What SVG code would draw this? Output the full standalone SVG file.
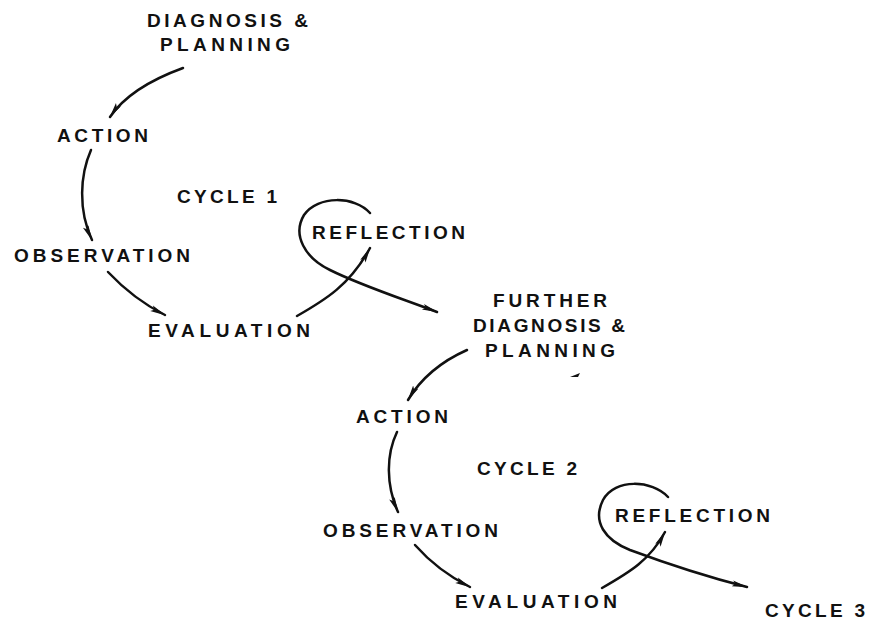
<svg xmlns="http://www.w3.org/2000/svg" width="869" height="622" viewBox="0 0 869 622">
<defs>
<style>
.t{font-family:"Liberation Sans",Arial,sans-serif;font-weight:bold;font-size:19px;fill:#111}
.c{fill:none;stroke:#111;stroke-width:2.5;stroke-linecap:round}
.a{marker-end:url(#ah)}
</style>
<marker id="ah" markerUnits="userSpaceOnUse" markerWidth="18" markerHeight="10" refX="15" refY="5" orient="auto">
<path d="M0,2 L16,5 L0,8 L3,5 z" fill="#111"/>
</marker>
</defs>
<rect width="869" height="622" fill="#fff"/>
<g id="connectors">
<path class="c a" d="M183,68 C150,80 125,95 110,117"/>
<path class="c a" d="M91,150 C80,175 78,210 92,240"/>
<path class="c a" d="M108,272 C125,290 145,305 165,315"/>
<path class="c a" d="M297,316 C325,300 350,285 370,248"/>
<path class="c a" d="M370,213 C355,196 318,195 304,215 C292,235 305,258 330,270 C360,285 400,298 437,312"/>
<path class="c a" d="M467,350 C440,362 420,380 408,400"/>
<path class="c a" d="M397,432 C386,455 386,485 398,512"/>
<path class="c a" d="M415,545 C430,562 450,577 470,587"/>
<path class="c a" d="M602,588 C630,572 650,560 665,532"/>
<path class="c a" d="M668,497 C652,480 615,478 603,500 C592,522 605,540 630,550 C665,563 700,575 747,587"/>
<path d="M570,377 L580,373 L578,377 z" fill="#111"/>
</g>
<g id="diagnosis1"><text class="t" x="147" y="27" textLength="161" lengthAdjust="spacing">DIAGNOSIS &amp;</text><text class="t" x="160" y="51" textLength="130" lengthAdjust="spacing">PLANNING</text></g>
<g id="action1"><text class="t" x="57" y="142" textLength="91" lengthAdjust="spacing">ACTION</text></g>
<g id="cycle1"><text class="t" x="177" y="203" textLength="100" lengthAdjust="spacing">CYCLE 1</text></g>
<g id="observation1"><text class="t" x="14" y="262" textLength="176" lengthAdjust="spacing">OBSERVATION</text></g>
<g id="evaluation1"><text class="t" x="148" y="337" textLength="162" lengthAdjust="spacing">EVALUATION</text></g>
<g id="reflection1"><text class="t" x="312" y="239" textLength="153" lengthAdjust="spacing">REFLECTION</text></g>
<g id="diagnosis2"><text class="t" x="493" y="307" textLength="114" lengthAdjust="spacing">FURTHER</text><text class="t" x="473" y="332" textLength="152" lengthAdjust="spacing">DIAGNOSIS &amp;</text><text class="t" x="485" y="357" textLength="130" lengthAdjust="spacing">PLANNING</text></g>
<g id="action2"><text class="t" x="356" y="423" textLength="92" lengthAdjust="spacing">ACTION</text></g>
<g id="cycle2"><text class="t" x="477" y="475" textLength="100" lengthAdjust="spacing">CYCLE 2</text></g>
<g id="observation2"><text class="t" x="323" y="537" textLength="175" lengthAdjust="spacing">OBSERVATION</text></g>
<g id="evaluation2"><text class="t" x="455" y="608" textLength="162" lengthAdjust="spacing">EVALUATION</text></g>
<g id="reflection2"><text class="t" x="615" y="522" textLength="155" lengthAdjust="spacing">REFLECTION</text></g>
<g id="cycle3"><text class="t" x="765" y="617" textLength="100" lengthAdjust="spacing">CYCLE 3</text></g>
</svg>
